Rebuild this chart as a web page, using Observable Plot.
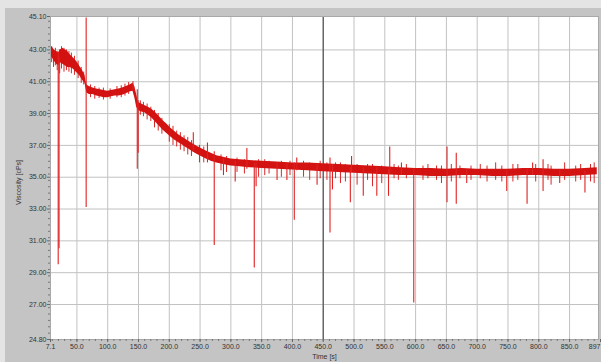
<!DOCTYPE html>
<html><head><meta charset="utf-8">
<script src="https://cdn.jsdelivr.net/npm/d3@7"></script>
<script src="https://cdn.jsdelivr.net/npm/@observablehq/plot@0.6"></script>
<style>
html,body{margin:0;padding:0;background:#e4e4e4;}
#chart svg{display:block;box-shadow:inset 5px 8px 0 #e4e4e4;}
</style></head><body><div id="chart"></div>
<script>
// noise band envelope of the viscosity trace
const envTime = [7.1,10,13,17,20,23,27,31,35,39,44,49,54,59,63,66,70,76,82,88,94,100,106,112,118,124,130,136,141,144,147,150,155,160,166,172,178,184,190,196,202,208,214,220,226,232,238,245,252,260,268,277,288,300,315,330,350,375,400,425,450,475,500,525,550,575,600,625,650,675,700,725,750,775,800,825,850,875,895];
const envLow  = [42.7,42.5,42.3,42.1,42.0,42.2,42.1,42.0,41.9,41.9,41.8,41.6,41.4,41.1,40.9,40.3,40.2,40.2,40.1,40.05,40.0,40.0,40.05,40.1,40.1,40.15,40.25,40.35,40.4,40.0,39.4,39.2,39.1,39.05,38.9,38.7,38.45,38.2,37.95,37.75,37.55,37.35,37.2,37.05,36.9,36.75,36.6,36.45,36.3,36.15,36.0,35.9,35.8,35.7,35.65,35.6,35.55,35.5,35.45,35.4,35.35,35.3,35.25,35.2,35.15,35.1,35.1,35.05,35.05,35.1,35.1,35.05,35.05,35.1,35.1,35.05,35.05,35.1,35.15];
const envHigh = [43.1,43.2,43.0,42.9,42.8,43.0,43.1,43.0,42.9,42.7,42.5,42.3,42.0,41.7,41.4,40.8,40.7,40.6,40.55,40.5,40.45,40.4,40.45,40.5,40.55,40.6,40.7,40.8,40.9,40.7,40.2,39.7,39.6,39.5,39.4,39.25,39.05,38.8,38.55,38.35,38.1,37.9,37.7,37.55,37.4,37.25,37.1,36.95,36.8,36.65,36.5,36.35,36.25,36.15,36.1,36.05,36.0,35.95,35.9,35.9,35.85,35.8,35.75,35.7,35.65,35.6,35.55,35.55,35.5,35.55,35.5,35.5,35.5,35.55,35.55,35.5,35.5,35.55,35.6];

// small hair-like noise excursions
const hairTime = [9,12,15,18,22,25,29,33,37,41,46,52,57,61,72,79,86,93,104,115,122,128,134,153,158,164,170,176,182,188,200,206,212,218,224,230,236,249,256,284,293,310,322,345,355,362,382,396,418,428,445,456,470,478,486,505,522,530,545,565,572,585,612,620,634,642,658,672,690,705,716,730,740,758,766,795,815,820,842,860,868,884,890];
const hairLow  = [42.2,41.9,42.0,41.7,41.5,41.8,41.6,41.7,41.6,41.5,41.4,41.2,40.9,40.8,40.0,39.9,39.95,39.85,39.9,40.0,40.0,40.1,40.2,38.9,38.8,38.6,38.5,38.1,37.9,37.7,37.2,37.0,36.9,36.7,36.6,36.4,36.3,35.9,35.9,35.4,35.3,35.3,35.2,35.0,35.1,35.2,35.0,35.1,35.0,34.8,34.9,34.8,34.9,34.6,34.7,34.5,34.8,34.4,34.6,34.9,34.8,34.9,34.8,34.9,34.8,34.6,34.7,34.9,34.8,34.9,34.7,34.8,34.7,34.7,34.8,34.7,34.8,34.5,34.8,34.7,34.8,34.7,34.6];
const hairHigh = [43.2,43.0,43.1,42.9,43.0,43.2,43.1,43.0,42.9,42.8,42.6,42.3,41.9,41.6,40.8,40.7,40.6,40.6,40.55,40.7,40.75,40.85,40.95,39.8,39.7,39.6,39.4,39.2,39.0,38.7,38.3,38.2,37.9,37.8,37.6,37.5,37.3,37.0,36.9,36.4,36.3,36.2,36.1,36.1,36.1,36.0,36.0,36.0,36.0,35.9,36.0,35.9,35.9,35.9,35.8,35.8,35.8,35.8,35.7,35.8,35.7,35.8,35.7,35.8,35.7,35.7,35.8,35.7,35.7,35.8,35.7,35.9,35.7,35.8,35.8,35.8,35.8,35.7,35.9,35.7,35.8,35.8,35.9];

// large spikes / drop-outs
const spikeTime = [19.6,21,65,141,148,149.5,239,262,273,288,307,326,338,341,375,391,403,407,440,461,465,494,496,515,537,556,558,577,597,651,666,683,748,781,790,807,834,875];
const spikeLow  = [29.5,30.5,33.1,40.4,35.5,36.5,36.6,35.9,30.7,35.1,34.7,35.5,29.3,34.4,34.8,34.8,32.3,35.4,34.5,31.5,34.2,33.4,35.3,33.8,33.8,33.8,35.2,35.1,27.1,33.4,33.3,34.6,34.1,33.3,35.1,34.1,34.6,34.0];
const spikeHigh = [42.8,42.5,45.0,41.0,40.5,39.8,37.8,37.15,36.6,36.2,36.0,36.8,35.9,35.9,35.9,35.9,35.9,36.2,35.8,36.2,35.8,35.6,36.3,35.6,35.6,35.5,36.9,35.9,35.5,36.9,36.5,35.5,35.4,35.5,35.9,36.1,35.4,35.4];

// axes
const xTicks = [7.1,50,100,150,200,250,300,350,400,450,500,550,600,650,700,750,800,850];
const xTickLabels = ["7.1","50.0","100.0","150.0","200.0","250.0","300.0","350.0","400.0","450.0","500.0","550.0","600.0","650.0","700.0","750.0","800.0","850.0"];
const xEndTick = [897];
const xEndLabel = "897";
const yTicks = [24.8,27,29,31,33,35,37,39,41,43,45.1];
const yTickLabels = ["24.80","27.00","29.00","31.00","33.00","35.00","37.00","39.00","41.00","43.00","45.10"];
const gridXValues = [50,100,150,200,250,300,350,400,450,500,550,600,650,700,750,800,850];
const gridYValues = [27,29,31,33,35,37,39,41,43];
const cursorTime = [450];
const xTitle = "Time [s]";
const yTitle = "Viscosity [cPs]";

const env = envTime.map((t, i) => ({t, lo: envLow[i], hi: envHigh[i]}));
const hairs = hairTime.map((t, i) => ({t, lo: hairLow[i], hi: hairHigh[i]}));
const spikes = spikeTime.map((t, i) => ({t, lo: spikeLow[i], hi: spikeHigh[i]}));
const xLab = new Map(xTicks.map((d, i) => [d, xTickLabels[i]]));
const yLab = new Map(yTicks.map((d, i) => [d, yTickLabels[i]]));
const minorX = d3.range(10, 897, 10);
const minorY = d3.range(25.2, 45.1, 0.4);

const red = "#d31212";
const chart = Plot.plot({
  width: 601, height: 362,
  marginTop: 16, marginBottom: 23, marginLeft: 50, marginRight: 3,
  style: {background: "#c4c4c4", fontFamily: "'Liberation Sans', Arial, sans-serif", fontSize: "7px", color: "#333"},
  x: {domain: [7.1, 897], label: null},
  y: {domain: [24.8, 45.1], label: null},
  marks: [
    Plot.frame({fill: "white"}),
    Plot.ruleX(gridXValues, {stroke: "#c2c2c2", strokeWidth: 1}),
    Plot.ruleY(gridYValues, {stroke: "#c2c2c2", strokeWidth: 1}),
    Plot.ruleX(cursorTime, {stroke: "#5a5a5a", strokeWidth: 1.3}),
    Plot.areaY(env, {x: "t", y1: "lo", y2: "hi", fill: red, curve: "linear"}),
    Plot.ruleX(hairs, {x: "t", y1: "lo", y2: "hi", stroke: red, strokeWidth: 0.9}),
    Plot.ruleX(spikes, {x: "t", y1: "lo", y2: "hi", stroke: "#e02222", strokeWidth: 1.1}),
    Plot.frame({stroke: "#a8a8a8"}),
    Plot.axisY({ticks: minorY, tickSize: 2, tickFormat: () => "", stroke: "#777"}),
    Plot.axisY({ticks: yTicks, tickSize: 3, tickPadding: 1, tickFormat: d => yLab.get(d), stroke: "#666", fill: "#333", label: null}),
    Plot.axisX({ticks: minorX, tickSize: 2, tickFormat: () => "", stroke: "#777"}),
    Plot.axisX({ticks: xTicks, tickSize: 3, tickPadding: 2, tickFormat: d => xLab.get(d), stroke: "#666", fill: "#333", label: null}),
    Plot.axisX({ticks: xEndTick, tickSize: 3, tickPadding: 2, tickFormat: () => xEndLabel, textAnchor: "end", dx: 2, stroke: "#666", fill: "#333", label: null}),
    Plot.text([xTitle], {frameAnchor: "bottom", dy: 19, fill: "#333", fontSize: 7}),
    Plot.text([yTitle], {frameAnchor: "left", dx: -32, dy: 27, rotate: -90, fill: "#333", fontSize: 7})
  ]
});
document.getElementById("chart").append(chart);
</script></body></html>
